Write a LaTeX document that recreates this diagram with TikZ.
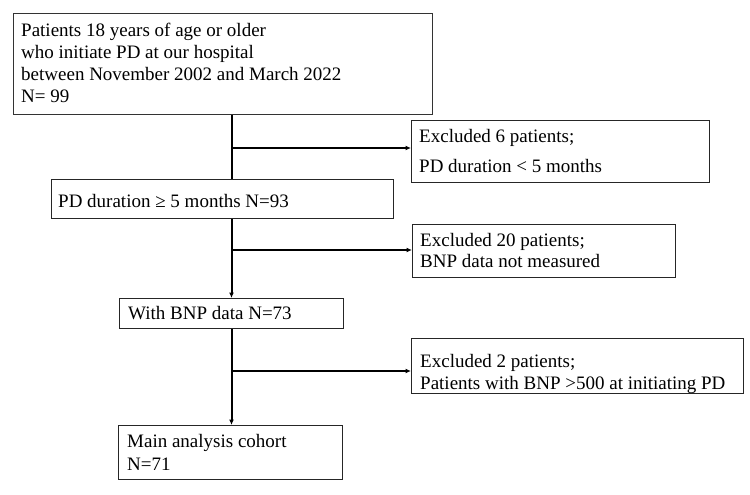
\documentclass[tikz,border=0pt]{standalone}
\usepackage{fontspec}
\setmainfont{Liberation Serif}
\usetikzlibrary{arrows.meta}
\begin{document}
\begin{tikzpicture}[x=1bp,y=-1bp,
  box/.style={draw=black!85, line width=1.1bp, rectangle, inner sep=0pt, anchor=north west},
  txt/.style={inner sep=0pt, anchor=base west, font=\fontsize{19bp}{22bp}\selectfont},
  spine/.style={line width=2bp, black},
  arr/.style={line width=1.8bp, black, -{Latex[length=5.5bp,width=5bp]}}]
\useasboundingbox (0,0) rectangle (750,495);
% boxes
\node[box, line width=1.4bp, draw=black!80, minimum width=419bp, minimum height=101bp] (b1) at (13,13) {};
\node[box, minimum width=342bp, minimum height=39bp] (b2) at (51,179) {};
\node[box, minimum width=298bp, minimum height=62bp] (e1) at (411,120) {};
\node[box, minimum width=263bp, minimum height=53bp] (e2) at (412,224) {};
\node[box, minimum width=224bp, minimum height=30bp] (b3) at (119,298) {};
\node[box, minimum width=332bp, minimum height=55bp] (e3) at (411,338) {};
\node[box, minimum width=224bp, minimum height=54bp] (b4) at (118,425) {};
% texts
\node[txt] (t1a) at (21,37) {Patients 18 years of age or older};
\node[txt] (t1b) at (21,59) {who initiate PD at our hospital};
\node[txt] (t1c) at (21,81) {between November 2002 and March 2022};
\node[txt] (t1d) at (21,103) {N= 99};
\node[txt] (t2) at (58,208) {PD duration ≥ 5 months N=93};
\node[txt] (te1a) at (419,143) {Excluded 6 patients;};
\node[txt] (te1b) at (419,173) {PD duration < 5 months};
\node[txt] (te2a) at (420,247) {Excluded 20 patients;};
\node[txt] (te2b) at (420,268) {BNP data not measured};
\node[txt] (t3) at (128,319) {With BNP data N=73};
\node[txt] (te3a) at (420,367) {Excluded 2 patients;};
\node[txt] (te3b) at (420,389) {Patients with BNP >500 at initiating PD};
\node[txt] (t4a) at (127,447) {Main analysis cohort};
\node[txt] (t4b) at (127,470) {N=71};
% connectors
\coordinate (sp) at (231.5,0);
\coordinate (j1) at (231.5,148);
\coordinate (j2) at (231.5,250);
\coordinate (j3) at (231.5,371);
\draw[spine] (b1.south -| sp) -- (b2.north -| sp);
\draw[spine, -{Latex[length=5.5bp,width=5bp]}] (b2.south -| sp) -- (b3.north -| sp);
\draw[spine, -{Latex[length=5.5bp,width=5bp]}] (b3.south -| sp) -- (b4.north -| sp);
\draw[arr] (j1) -- (j1 -| e1.west);
\draw[arr] (j2) -- (j2 -| e2.west);
\draw[arr] (j3) -- (j3 -| e3.west);
\end{tikzpicture}
\end{document}
